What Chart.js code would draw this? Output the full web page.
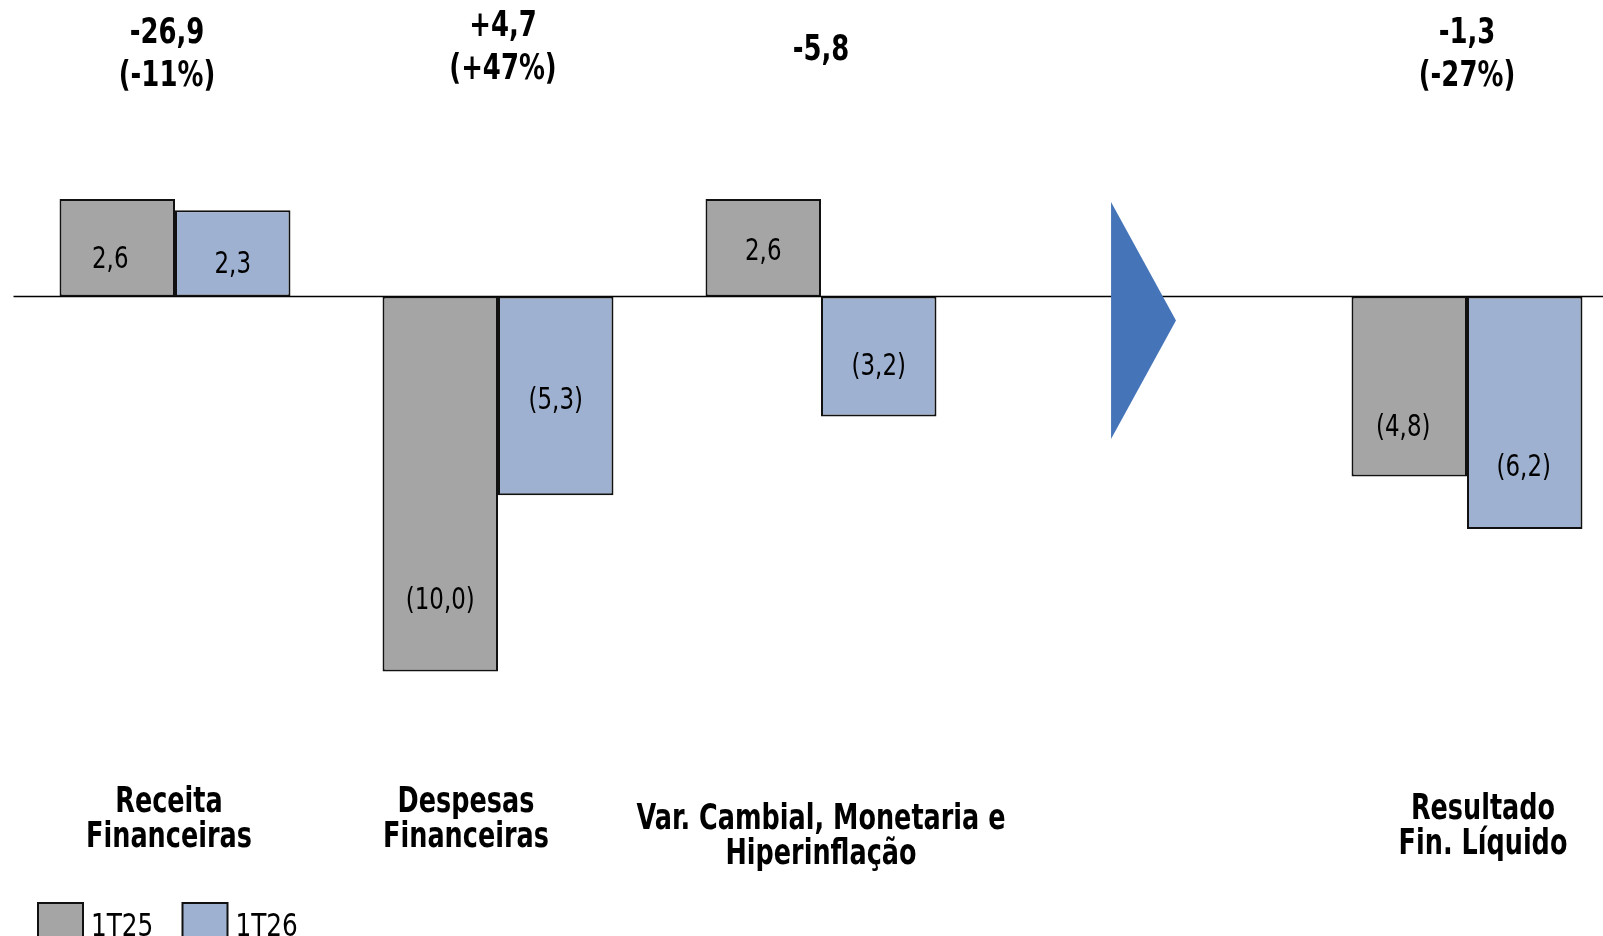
<!DOCTYPE html>
<html>
<head>
<meta charset="utf-8">
<script src="https://cdn.jsdelivr.net/npm/chart.js@4.4.1/dist/chart.umd.min.js"></script>
<style>
  html, body { margin: 0; padding: 0; background: #ffffff; overflow: hidden; width: 1603px; height: 936px; }
  #wrap { position: absolute; left: 0; top: 0; width: 1640px; height: 936px; }
</style>
</head>
<body>
<div id="wrap"><canvas id="c" width="1640" height="936"></canvas></div>
<script>
// ---- data ----
const categories = ['Receita Financeiras', 'Despesas Financeiras', 'Var. Cambial, Monetaria e Hiperinflação', '', 'Resultado Fin. Líquido'];
const categoryLines = [['Receita', 'Financeiras'], ['Despesas', 'Financeiras'], ['Var. Cambial, Monetaria e', 'Hiperinflação'], [], ['Resultado', 'Fin. Líquido']];
const seriesNames = ['1T25', '1T26'];
const values1T25 = [2.6, -10.0, 2.6, null, -4.8];
const values1T26 = [2.3, -5.3, -3.2, null, -6.2];
const variationLines = [['-26,9', '(-11%)'], ['+4,7', '(+47%)'], ['-5,8'], [], ['-1,3', '(-27%)']];
const arrowIndex = 3;
const arrowSpan = { top: 2.52, tip: -0.64, bottom: -3.8 };

const FONT = "'DejaVu Sans Condensed', 'Liberation Sans Narrow', 'DejaVu Sans', sans-serif";
const colors = ['#A5A5A5', '#9EB1D0'];

function fmt(v) {
  const s = Math.abs(v).toFixed(1).replace('.', ',');
  return v < 0 ? '(' + s + ')' : s;
}

// draw real text, horizontally condensed to mimic a narrow typeface
function condensedText(ctx, text, x, y, sx) {
  ctx.save();
  ctx.translate(x, y);
  ctx.scale(sx, 1);
  ctx.fillText(text, 0, 0);
  ctx.restore();
}

const decor = {
  id: 'decor',
  beforeDatasetsDraw(chart) {
    const { ctx, chartArea, scales } = chart;
    const y0 = scales.y.getPixelForValue(0);
    ctx.save();
    ctx.strokeStyle = '#000';
    ctx.lineWidth = 1.5;
    ctx.beginPath();
    ctx.moveTo(chartArea.left, y0);
    ctx.lineTo(chartArea.right, y0);
    ctx.stroke();
    // arrow
    const xs = scales.x;
    const slot = (chartArea.right - chartArea.left) / categories.length;
    const cx = xs.getPixelForValue(arrowIndex);
    ctx.fillStyle = '#4674B8';
    ctx.beginPath();
    ctx.moveTo(cx - slot * 0.102, scales.y.getPixelForValue(arrowSpan.top));
    ctx.lineTo(cx + slot * 0.099, scales.y.getPixelForValue(arrowSpan.tip));
    ctx.lineTo(cx - slot * 0.102, scales.y.getPixelForValue(arrowSpan.bottom));
    ctx.closePath();
    ctx.fill();
    ctx.restore();
  },
  afterDatasetsDraw(chart, args, opts) {
    const { ctx, scales } = chart;
    const xs = scales.x;
    ctx.save();
    ctx.fillStyle = '#000';
    ctx.textAlign = 'center';
    ctx.textBaseline = 'middle';
    // value labels
    ctx.font = '30px ' + FONT;
    chart.data.datasets.forEach((ds, di) => {
      const meta = chart.getDatasetMeta(di);
      meta.data.forEach((bar, i) => {
        const v = ds.data[i];
        if (v === null || v === undefined) return;
        const sh = opts.labelShift[di][i];
        const midY = (bar.y + bar.base) / 2;
        condensedText(ctx, fmt(v), bar.x + sh[0], midY + sh[1] + 3, 0.85);
      });
    });
    // variation labels at top
    ctx.font = 'bold 36px ' + FONT;
    variationLines.forEach((lines, i) => {
      const p = opts.topPos[i];
      lines.forEach((t, k) => condensedText(ctx, t, xs.getPixelForValue(i) + p[0], p[1] + k * 43, 0.8));
    });
    // category labels
    ctx.font = 'bold 35px ' + FONT;
    categoryLines.forEach((lines, i) => {
      const p = opts.catPos[i];
      lines.forEach((t, k) => condensedText(ctx, t, xs.getPixelForValue(i) + p[0], p[1] + k * 35, 0.81));
    });
    // legend
    ctx.textAlign = 'left';
    ctx.textBaseline = 'alphabetic';
    ctx.font = '32px ' + FONT;
    const lx = [38, 182.5];
    chart.data.datasets.forEach((ds, di) => {
      ctx.fillStyle = ds.backgroundColor;
      ctx.fillRect(lx[di], 903, 45, 40);
      ctx.strokeStyle = '#111';
      ctx.lineWidth = 2;
      ctx.strokeRect(lx[di], 903, 45, 40);
      ctx.fillStyle = '#000';
      condensedText(ctx, ds.label, lx[di] + 53, 936, 0.86);
    });
    ctx.restore();
  }
};

new Chart(document.getElementById('c'), {
  type: 'bar',
  data: {
    labels: categories,
    datasets: [
      { label: seriesNames[0], data: values1T25, backgroundColor: colors[0], borderColor: '#111', borderWidth: 2, borderSkipped: false, categoryPercentage: 0.715, barPercentage: 1.0 },
      { label: seriesNames[1], data: values1T26, backgroundColor: colors[1], borderColor: '#111', borderWidth: 2, borderSkipped: false, categoryPercentage: 0.715, barPercentage: 1.0 }
    ]
  },
  options: {
    responsive: false,
    animation: false,
    devicePixelRatio: 1,
    layout: { padding: { left: 13.5, right: 11.5, top: 34, bottom: 77 } },
    scales: {
      x: { display: false },
      y: { display: false, min: -15, max: 7 }
    },
    plugins: {
      legend: { display: false },
      tooltip: { enabled: false },
      decor: {
        labelShift: [
          [[-7, 9], [0, 114], [0, 1], [0, 0], [-6, 39]],
          [[0, 9], [0, 2], [0, 8], [0, 0], [-1, 52]]
        ],
        topPos: [[-8, 34], [5, 27], [0, 51], [0, 0], [0, 34]],
        catPos: [[-6, 803], [-32, 803], [0, 820], [0, 0], [16, 810]]
      }
    }
  },
  plugins: [decor]
});
</script>
</body>
</html>
